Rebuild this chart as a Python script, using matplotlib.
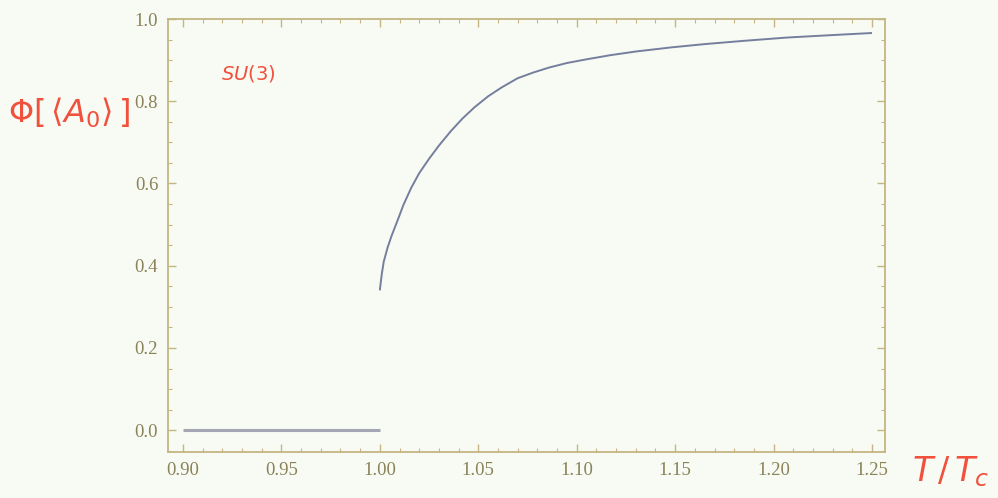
import matplotlib
matplotlib.use("Agg")
import matplotlib.pyplot as plt
from matplotlib.ticker import MultipleLocator, FormatStrFormatter

# Polyakov loop expectation value across the deconfinement transition
t_confined = [0.90, 1.00]
phi_confined = [0.0, 0.0]

t_deconfined = [1.000, 1.001, 1.002, 1.004, 1.006, 1.009, 1.012, 1.016, 1.020,
                1.025, 1.030, 1.036, 1.042, 1.048, 1.055, 1.062, 1.070, 1.078,
                1.086, 1.095, 1.105, 1.117, 1.130, 1.148, 1.165, 1.185, 1.207,
                1.230, 1.250]
phi_deconfined = [0.340, 0.380, 0.410, 0.445, 0.473, 0.510, 0.548, 0.590, 0.625,
                  0.660, 0.692, 0.727, 0.758, 0.785, 0.812, 0.834, 0.856, 0.870,
                  0.882, 0.893, 0.902, 0.912, 0.921, 0.931, 0.939, 0.947, 0.955,
                  0.961, 0.966]

x_ticks = [0.90, 0.95, 1.00, 1.05, 1.10, 1.15, 1.20, 1.25]
y_ticks = [0.0, 0.2, 0.4, 0.6, 0.8, 1.0]

bg = "#f7fbf3"
frame = "#c4b682"
tick_text = "#8a8258"
red = "#f0503c"
curve = "#767e9e"

plt.rcParams["mathtext.fontset"] = "dejavusans"

fig = plt.figure(figsize=(9.98, 4.98), dpi=100, facecolor=bg)
ax = fig.add_axes([0.1683, 0.0924, 0.7185, 0.8694], facecolor=bg)

ax.plot(t_confined, phi_confined, color="#a4a6b4", lw=2.2, solid_capstyle="butt")
ax.plot(t_deconfined, phi_deconfined, color=curve, lw=1.4,
        solid_capstyle="butt", solid_joinstyle="round")

ax.set_xlim(0.8924, 1.2566)
ax.set_ylim(-0.053, 0.998)

ax.set_xticks(x_ticks)
ax.set_yticks(y_ticks)
ax.xaxis.set_minor_locator(MultipleLocator(0.01))
ax.yaxis.set_minor_locator(MultipleLocator(0.05))
ax.xaxis.set_major_formatter(FormatStrFormatter("%.2f"))
ax.yaxis.set_major_formatter(FormatStrFormatter("%.1f"))

for s in ax.spines.values():
    s.set_color(frame)
    s.set_linewidth(1.3)

ax.tick_params(which="both", direction="in", top=True, right=True,
               color=frame, labelcolor=tick_text)
ax.tick_params(which="major", length=6, width=1.0, labelsize=13.5, pad=7)
ax.tick_params(which="minor", length=3, width=0.8)
for lab in ax.get_xticklabels() + ax.get_yticklabels():
    lab.set_fontfamily("Liberation Serif")

fig.text(0.069, 0.773, r"$\Phi\left[\,\langle A_0\rangle\,\right]$", color=red,
         fontsize=23, ha="center", va="center")
fig.text(0.953, 0.052, r"$T\,/\,T_c$", color=red, fontsize=24,
         ha="center", va="center")
ax.text(0.9195, 0.868, r"$SU$(3)", color=red, fontsize=14,
        ha="left", va="center")

fig.savefig("out.png", dpi=100, facecolor=bg)
